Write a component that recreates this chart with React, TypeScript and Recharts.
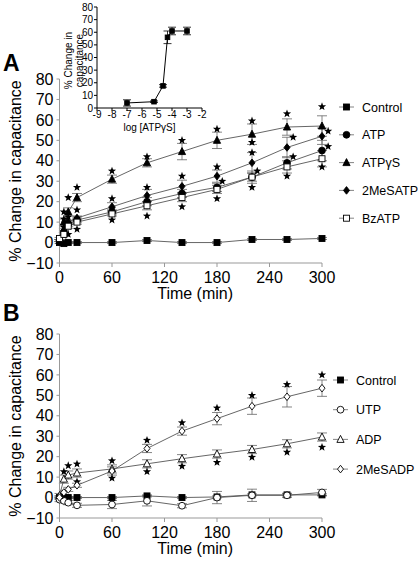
import React from 'react';
import { ComposedChart, Line, Scatter, XAxis, YAxis, ErrorBar, ReferenceLine } from 'recharts';

// shared axes
const times = [0, 5, 10, 20, 60, 100, 140, 180, 220, 260, 300];
const timeTicks = [0, 60, 120, 180, 240, 300];
const changeTicks = [-10, 0, 10, 20, 30, 40, 50, 60, 70, 80];

// panel A (% change in capacitance)
const controlA = [0, -0.5, 0, 0, 0, 1, 0, 0, 1.5, 1.5, 2];
const controlAErr = [0.5, 0.5, 0.5, 0.5, 0.5, 0.5, 0.5, 0.5, 0.5, 0.5, 0.5];
const atp = [1, 5, 9, 11, 15, 20, 24, 27, 32, 39, 45];
const atpErr = [0.5, 1, 1, 1, 1, 2, 2, 2, 3, 3, 5];
const atpGS = [1, 10, 15, 22, 31, 39, 44.5, 50, 53, 56.5, 57];
const atpGSErr = [0.5, 1.5, 2, 2, 2, 2, 4, 4, 5, 4, 5];
const meSATP = [1, 6, 10, 12, 17.5, 23, 27.5, 32.5, 39, 46.5, 52];
const meSATPErr = [0.5, 1, 1, 1, 2, 3, 3, 3, 5, 5, 4];
const bzATP = [2, 4, 8, 10, 14, 18, 22, 26, 32, 37, 41];
const bzATPErr = [0.5, 1, 1, 1, 1, 2, 2, 2, 2, 3, 4];

// significance stars, panel A: [time, value]
const starsA = [
  [5, 15], [5, 11.5], [5, 7.5], [5, 3.5],
  [10, 22], [10, 12.5], [10, 8], [10, 4],
  [20, 27], [20, 16], [20, 12], [20, 6.5],
  [60, 35], [60, 21.5], [60, 16.5], [60, 11],
  [100, 42], [100, 27], [100, 19], [100, 13],
  [140, 50], [140, 32.5], [140, 24], [140, 17.5],
  [180, 55.5], [180, 37], [186, 30], [180, 21.5],
  [220, 59.5], [220, 49], [220, 44], [226, 35], [220, 27],
  [260, 63], [267, 51.5], [267, 42], [260, 32.5],
  [300, 66.5], [307, 54.5], [307, 47], [300, 37],
];

// panel B
const controlB = [0, 0, 0, 0, 0, 0.8, 0, 0.3, 1.3, 1.3, 1.3];
const controlBErr = [0.5, 0.5, 0.5, 0.5, 0.5, 0.5, 0.5, 0.5, 0.5, 0.5, 0.5];
const utp = [-1, -1.6, -2.5, -3.8, -3.4, -1.6, -4, 0, 1.1, 1.1, 2.5];
const utpErr = [1, 1, 1, 1, 2, 2.5, 1, 3, 3, 1, 1.5];
const adp = [1, 9, 11, 12, 14, 16.5, 19, 21.3, 23.5, 26.3, 29.6];
const adpErr = [1, 2, 2, 2, 2, 2, 2, 2, 2, 2, 2];
const meSADP = [0, 2.5, 4, 6, 13, 24, 32.5, 38.6, 44.7, 49.3, 53.5];
const meSADPErr = [1, 1, 1, 1, 2, 2, 2, 3, 4, 5, 4];

const starsB = [
  [5, 12.7], [10, 15.6], [20, 16.4], [20, 7.7],
  [60, 18], [60, 9.5], [100, 28], [100, 12.7],
  [140, 36.6], [140, 15.3], [180, 43.8], [180, 17.2],
  [220, 50], [220, 19.7], [260, 55.3], [260, 22.2],
  [300, 60], [300, 24.6],
];

// inset: dose response to ATPgammaS
const logDose = [-7, -5.2, -4.6, -4.3, -4, -3];
const doseChange = [4, 5, 17.5, 56, 61, 61];
const doseErr = [2.5, 0.6, 1, 5, 3, 3];
const logTicks = [-9, -8, -7, -6, -5, -4, -3, -2];
const insetTicks = [0, 10, 20, 30, 40, 50, 60, 70, 80];

type Shape = 'square' | 'circle' | 'triangle' | 'diamond';
interface Series { key: string; name: string; shape: Shape; filled: boolean; values: number[]; err: number[] }

const seriesA: Series[] = [
  { key: 'control', name: 'Control', shape: 'square', filled: true, values: controlA, err: controlAErr },
  { key: 'atp', name: 'ATP', shape: 'circle', filled: true, values: atp, err: atpErr },
  { key: 'atpgs', name: 'ATPγS', shape: 'triangle', filled: true, values: atpGS, err: atpGSErr },
  { key: 'mesatp', name: '2MeSATP', shape: 'diamond', filled: true, values: meSATP, err: meSATPErr },
  { key: 'bzatp', name: 'BzATP', shape: 'square', filled: false, values: bzATP, err: bzATPErr },
];

const seriesB: Series[] = [
  { key: 'control', name: 'Control', shape: 'square', filled: true, values: controlB, err: controlBErr },
  { key: 'utp', name: 'UTP', shape: 'circle', filled: false, values: utp, err: utpErr },
  { key: 'adp', name: 'ADP', shape: 'triangle', filled: false, values: adp, err: adpErr },
  { key: 'mesadp', name: '2MeSADP', shape: 'diamond', filled: false, values: meSADP, err: meSADPErr },
];

const buildRows = (series: Series[]) =>
  times.map((t, i) => {
    const row: Record<string, number> = { t };
    series.forEach((s) => {
      row[s.key] = s.values[i];
      row[s.key + 'Err'] = s.err[i];
    });
    return row;
  });

const toStarRows = (pairs: number[][]) => pairs.map(([t, v]) => ({ t, v }));

const doseRows = logDose.map((x, i) => ({ logc: x, change: doseChange[i], err: doseErr[i] }));

const FONT = '"Liberation Sans", Arial, Helvetica, sans-serif';

const Marker = ({ cx, cy, shape, filled, s = 3 }: { cx: number; cy: number; shape: Shape; filled: boolean; s?: number }) => {
  const common = { fill: filled ? '#000' : '#fff', stroke: '#000', strokeWidth: 0.9 };
  if (shape === 'square') return <rect x={cx - s} y={cy - s} width={2 * s} height={2 * s} {...common} />;
  if (shape === 'circle') return <circle cx={cx} cy={cy} r={s + 0.4} {...common} />;
  if (shape === 'triangle')
    return <path d={`M${cx},${cy - s - 1}L${cx + s + 0.6},${cy + s}L${cx - s - 0.6},${cy + s}Z`} {...common} />;
  return <path d={`M${cx},${cy - s - 0.8}L${cx + s},${cy}L${cx},${cy + s + 0.8}L${cx - s},${cy}Z`} {...common} />;
};

const starPath = (cx: number, cy: number, R = 4.3, r = 1.8) => {
  let d = '';
  for (let i = 0; i < 10; i++) {
    const rad = i % 2 === 0 ? R : r;
    const a = -Math.PI / 2 + (i * Math.PI) / 5;
    d += (i === 0 ? 'M' : 'L') + (cx + rad * Math.cos(a)).toFixed(2) + ',' + (cy + rad * Math.sin(a)).toFixed(2);
  }
  return d + 'Z';
};

const StarShape = (props: any) => <path d={starPath(props.cx, props.cy)} fill="#000" />;

const minusFmt = (v: number) => (v < 0 ? `\u2212${-v}` : `${v}`);

const MainYLabel = (props: any) => {
  const { x, width, y, height } = props.viewBox;
  const bx = x + width - 38.5;
  const cy = y + height / 2;
  return (
    <text x={bx} y={cy} transform={`rotate(-90 ${bx} ${cy})`} textAnchor="middle" fontSize={16} fill="#000" fontFamily={FONT}>
      % Change in capacitance
    </text>
  );
};

const InsetYLabel = (props: any) => {
  const { x, width, y, height } = props.viewBox;
  const bx = x + width - 25.5;
  const cy = y + height / 2 + 3;
  return (
    <text x={bx} y={cy} transform={`rotate(-90 ${bx} ${cy})`} textAnchor="middle" fontSize={10} fill="#000" fontFamily={FONT}>
      <tspan x={bx} dy={0}>% Change in</tspan>
      <tspan x={bx} dy={11}>capacitance</tspan>
    </text>
  );
};

const TimeCourse = ({ series, stars, top }: { series: Series[]; stars: number[][]; top: number }) => (
  <div style={{ position: 'absolute', left: 0, top }}>
    <ComposedChart width={420} height={304} data={buildRows(series)} margin={{ top: 79, right: 89.25, bottom: 0, left: 4.5 }}>
      <XAxis
        type="number"
        dataKey="t"
        domain={[0, 310]}
        ticks={timeTicks}
        axisLine={false}
        tickSize={4}
        tickMargin={5}
        tickLine={{ stroke: '#999' }}
        tick={{ fill: '#000', fontSize: 16, fontFamily: FONT }}
        height={41}
        label={{ value: 'Time (min)', position: 'insideBottom', offset: 5, fill: '#000', fontSize: 16, fontFamily: FONT }}
      />
      <YAxis
        type="number"
        domain={[-10, 80]}
        ticks={changeTicks}
        width={55}
        interval={0}
        tickSize={3}
        tickMargin={3}
        stroke="#999"
        tick={{ fill: '#000', fontSize: 16, fontFamily: FONT }}
        tickFormatter={minusFmt}
        label={MainYLabel}
      />
      <ReferenceLine segment={[{ x: 0, y: -10 }, { x: 300, y: -10 }]} stroke="#999" />
      {series.map((s) => (
        <Line
          key={s.key}
          dataKey={s.key}
          type="linear"
          stroke="#555"
          strokeWidth={0.9}
          isAnimationActive={false}
          dot={(p: any) => <Marker key={`${s.key}-${p.index}`} cx={p.cx} cy={p.cy} shape={s.shape} filled={s.filled} />}
          activeDot={false}
        >
          <ErrorBar dataKey={s.key + 'Err'} width={5} stroke="#666" strokeWidth={0.8} direction="y" />
        </Line>
      ))}
      <Scatter data={toStarRows(stars)} dataKey="v" shape={StarShape} isAnimationActive={false} />
    </ComposedChart>
  </div>
);

const SeriesLegend = ({ series, first, step, left }: { series: Series[]; first: number; step: number; left: number }) => (
  <svg style={{ position: 'absolute', left, top: first - 10 }} width={420 - left} height={step * series.length + 10}>
    {series.map((s, i) => {
      const y = 10 + i * step;
      return (
        <g key={s.key}>
          <line x1={0} x2={15} y1={y} y2={y} stroke="#777" strokeWidth={0.9} />
          <Marker cx={7.5} cy={y} shape={s.shape} filled={s.filled} />
          <text x={23} y={y + 4.5} fontSize={12.5} fill="#000" fontFamily={FONT}>{s.name}</text>
        </g>
      );
    })}
  </svg>
);

const DoseInset = () => (
  <div style={{ position: 'absolute', left: 0, top: 0 }}>
    <ComposedChart width={215} height={135} data={doseRows} margin={{ top: 7, right: 13, bottom: 0, left: 57 }}>
      <XAxis
        type="number"
        dataKey="logc"
        domain={[-9, -2]}
        ticks={logTicks}
        interval={0}
        height={27}
        tickSize={3}
        tickMargin={0}
        stroke="#000"
        tick={{ fill: '#000', fontSize: 10, fontFamily: FONT }}
        label={{ value: 'log [ATPγS]', position: 'insideBottom', offset: 4, fill: '#000', fontSize: 10, fontFamily: FONT }}
      />
      <YAxis
        type="number"
        domain={[0, 80]}
        ticks={insetTicks}
        interval={0}
        width={40}
        tickSize={3}
        tickMargin={1}
        stroke="#000"
        tick={{ fill: '#000', fontSize: 10, fontFamily: FONT }}
        label={InsetYLabel}
      />
      <Line
        dataKey="change"
        type="linear"
        stroke="#000"
        strokeWidth={1}
        isAnimationActive={false}
        activeDot={false}
        dot={(p: any) => <Marker key={`dose-${p.index}`} cx={p.cx} cy={p.cy} shape="square" filled s={2.3} />}
      >
        <ErrorBar dataKey="err" width={4} stroke="#000" strokeWidth={0.8} direction="y" />
      </Line>
    </ComposedChart>
  </div>
);

const PanelLetter = ({ text, y }: { text: string; y: number }) => (
  <svg style={{ position: 'absolute', left: 0, top: y - 15 }} width={30} height={30}>
    <text x={3} y={23} fontSize={23} fontWeight="bold" fill="#000" fontFamily={FONT}>{text}</text>
  </svg>
);

export default function App() {
  return (
    <div style={{ position: 'absolute', left: 0, top: 0, width: 420, height: 562, overflow: 'hidden', background: '#fff', fontFamily: FONT }}>
      <TimeCourse series={seriesA} stars={starsA} top={0} />
      <DoseInset />
      <SeriesLegend series={seriesA} first={107} step={27.8} left={339} />
      <TimeCourse series={seriesB} stars={starsB} top={255} />
      <SeriesLegend series={seriesB} first={380} step={29.7} left={333} />
      <PanelLetter text="A" y={63} />
      <PanelLetter text="B" y={313} />
    </div>
  );
}
